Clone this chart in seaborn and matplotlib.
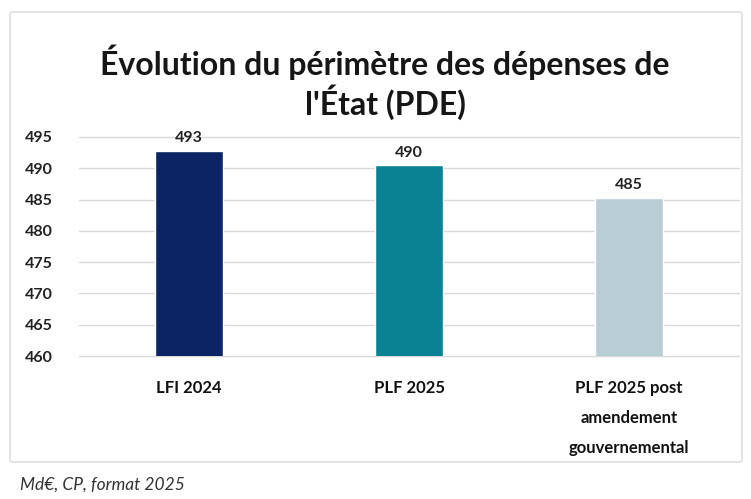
import numpy as np
import pandas as pd
import seaborn as sns
import matplotlib.pyplot as plt
from matplotlib.patches import FancyBboxPatch

categories = ['LFI 2024', 'PLF 2025', 'PLF 2025 post\namendement\ngouvernemental']
values = [492.8, 490.5, 485.3]
value_labels = ['493', '490', '485']
colors = ['#0b2463', '#0a8294', '#b9cdd5']
yticks = [460, 465, 470, 475, 480, 485, 490, 495]

sns.set_theme(style='white')
plt.rcParams['font.family'] = ['Lato', 'DejaVu Sans']

df = pd.DataFrame({'cat': categories, 'val': values})

fig = plt.figure(figsize=(7.51, 4.99), dpi=100)
# chart frame, behind the axes
frame = FancyBboxPatch((10 / 751, 1 - 462 / 499), 732 / 751, 450 / 499,
                       boxstyle='round,pad=0,rounding_size=0.004',
                       transform=fig.transFigure, facecolor='white',
                       edgecolor='#d9d9d9', linewidth=1.0, zorder=-5)
fig.patches.append(frame)

ax = fig.add_axes([79 / 751, 1 - 356 / 499, 660 / 751, 219 / 499])
ax.set_facecolor('none')
sns.barplot(data=df, x='cat', y='val', hue='cat', palette=colors,
            width=0.31, saturation=1, legend=False, ax=ax, zorder=3)
ax.set_ylim(460, 495)
ax.set_yticks(yticks)
ax.set_axisbelow(True)
ax.grid(axis='y', color='#d9d9d9', linewidth=1.0)
for gl in ax.get_ygridlines():
    gl.set_clip_on(False)
for s in ax.spines.values():
    s.set_visible(False)
ax.tick_params(axis='both', length=0)
ax.tick_params(axis='x', pad=17)
for lbl in ax.get_yticklabels():
    lbl.set_fontsize(11.5)
    lbl.set_fontweight('bold')
    lbl.set_color('#222222')
    lbl.set_horizontalalignment('left')
ax.yaxis.set_tick_params(pad=39)
for lbl in ax.get_xticklabels():
    lbl.set_fontsize(12)
    lbl.set_fontweight('bold')
    lbl.set_color('#111111')
    lbl.set_verticalalignment('top')
    lbl.set_linespacing(2.08)
ax.set_xlabel('')
ax.set_ylabel('')

for i, (v, t) in enumerate(zip(values, value_labels)):
    ax.annotate(t, (i, v), xytext=(0, 4), textcoords='offset points',
                ha='center', va='bottom', fontsize=11.5, fontweight='bold',
                color='#222222')

fig.text(385 / 751, 1 - 82 / 499, "Évolution du périmètre des dépenses de\nl'État (PDE)",
         ha='center', va='center', fontsize=23, fontweight='bold',
         color='#161616', linespacing=1.15)
fig.text(20 / 751, 1 - 485 / 499, 'Md€, CP, format 2025', ha='left', va='center',
         fontsize=12.5, style='italic', color='#333333')

fig.savefig('out.png', dpi=100)
